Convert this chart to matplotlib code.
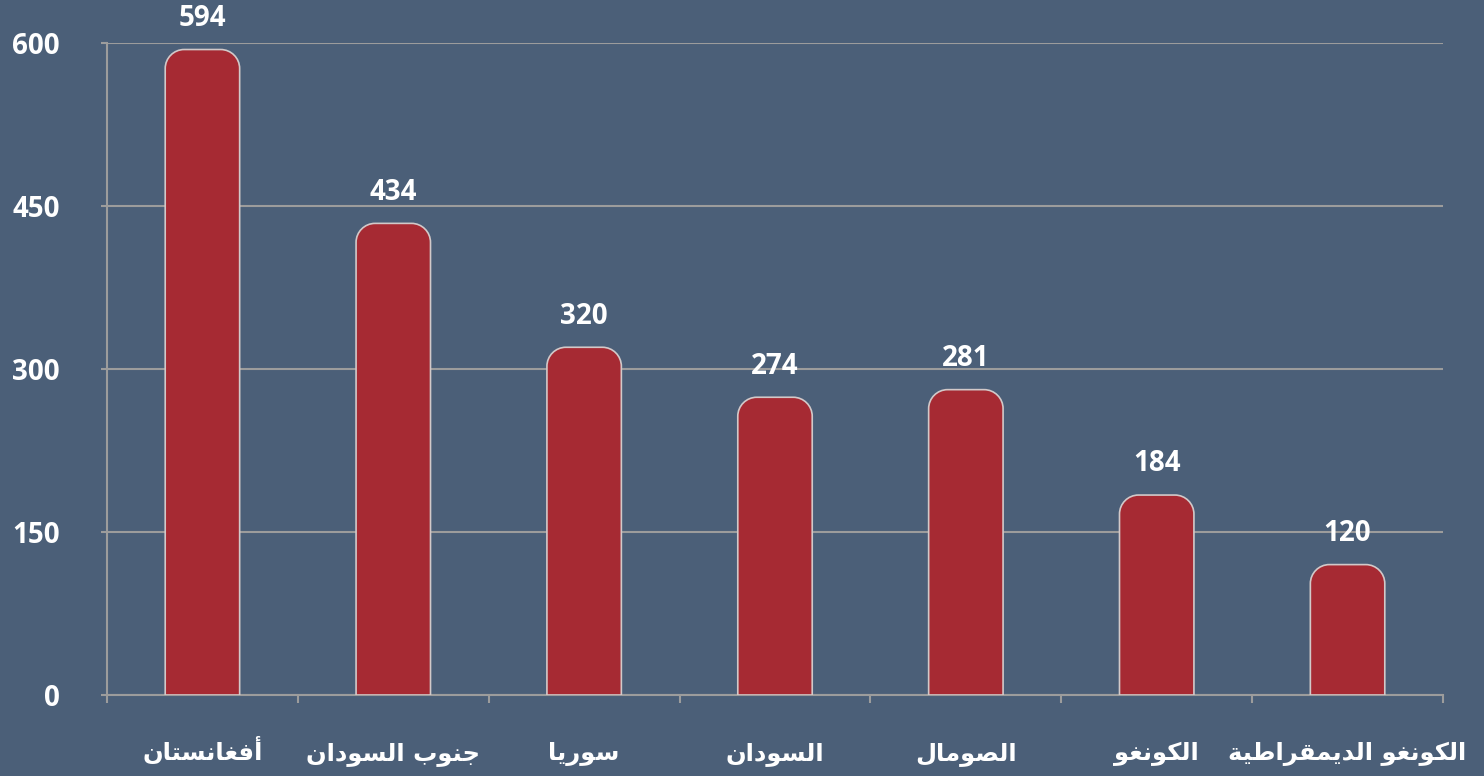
import numpy as np
import matplotlib
matplotlib.use('Agg')
import matplotlib.pyplot as plt
from matplotlib.path import Path
from matplotlib.patches import PathPatch
from matplotlib.ticker import FixedLocator

# data
countries = ['أفغانستان', 'جنوب السودان', 'سوريا', 'السودان', 'الصومال',
             'الكونغو', 'الكونغو الديمقراطية']
values = [594, 434, 320, 274, 281, 184, 120]
yticks = [0, 150, 300, 450, 600]

BG = '#4b5f78'
BAR = '#a62a33'
EDGE = '#d2c9c9'
GRID = '#9c9c9c'

# minimal arabic shaping (iso, final, initial, medial)
FORMS = {
    'ا': (0xFE8D, 0xFE8E, None, None),
    'أ': (0xFE83, 0xFE84, None, None),
    'ب': (0xFE8F, 0xFE90, 0xFE91, 0xFE92),
    'ة': (0xFE93, 0xFE94, None, None),
    'ت': (0xFE95, 0xFE96, 0xFE97, 0xFE98),
    'ج': (0xFE9D, 0xFE9E, 0xFE9F, 0xFEA0),
    'د': (0xFEA9, 0xFEAA, None, None),
    'ر': (0xFEAD, 0xFEAE, None, None),
    'س': (0xFEB1, 0xFEB2, 0xFEB3, 0xFEB4),
    'ص': (0xFEB9, 0xFEBA, 0xFEBB, 0xFEBC),
    'ط': (0xFEC1, 0xFEC2, 0xFEC3, 0xFEC4),
    'غ': (0xFECD, 0xFECE, 0xFECF, 0xFED0),
    'ف': (0xFED1, 0xFED2, 0xFED3, 0xFED4),
    'ق': (0xFED5, 0xFED6, 0xFED7, 0xFED8),
    'ك': (0xFED9, 0xFEDA, 0xFEDB, 0xFEDC),
    'ل': (0xFEDD, 0xFEDE, 0xFEDF, 0xFEE0),
    'م': (0xFEE1, 0xFEE2, 0xFEE3, 0xFEE4),
    'ن': (0xFEE5, 0xFEE6, 0xFEE7, 0xFEE8),
    'و': (0xFEED, 0xFEEE, None, None),
    'ي': (0xFEF1, 0xFEF2, 0xFEF3, 0xFEF4),
}


def shape(text):
    out = []
    for i, ch in enumerate(text):
        if ch not in FORMS:
            out.append(ch)
            continue
        prev = text[i-1] if i > 0 else ''
        nxt = text[i+1] if i + 1 < len(text) else ''
        iso, fin, ini, med = FORMS[ch]
        jp = prev in FORMS and FORMS[prev][2] is not None
        jn = nxt in FORMS and ini is not None
        if jp and jn:
            c = med
        elif jp:
            c = fin
        elif jn:
            c = ini
        else:
            c = iso
        out.append(chr(c))
    return ''.join(out)[::-1]


fig = plt.figure(figsize=(14.84, 7.76), dpi=100, facecolor=BG)
ax = fig.add_axes([107/1484, 1-695/776, 1336/1484, 652/776])
ax.set_facecolor(BG)

x = np.arange(len(countries))
bars = ax.bar(x, values, width=0.39, color=BAR, zorder=3)
ax.set_xlim(-0.5, len(countries) - 0.5)
ax.set_ylim(0, 600)

# rounded tops
p = ax.transData.transform([(0, 0), (1, 1)])
px_x, px_y = p[1] - p[0]
rx, ry = 19 / px_x, 19 / px_y
k = 0.5523
for b in bars:
    x0, w, h = b.get_x(), b.get_width(), b.get_height()
    verts = [(x0, 0), (x0, h - ry),
             (x0, h - ry + k*ry), (x0 + rx - k*rx, h), (x0 + rx, h),
             (x0 + w - rx, h),
             (x0 + w - rx + k*rx, h), (x0 + w, h - ry + k*ry), (x0 + w, h - ry),
             (x0 + w, 0), (x0, 0)]
    codes = [Path.MOVETO, Path.LINETO,
             Path.CURVE4, Path.CURVE4, Path.CURVE4,
             Path.LINETO,
             Path.CURVE4, Path.CURVE4, Path.CURVE4,
             Path.LINETO, Path.CLOSEPOLY]
    ax.add_patch(PathPatch(Path(verts, codes), facecolor=BAR, edgecolor=EDGE,
                           linewidth=1.2, zorder=3))
    b.set_visible(False)
    ax.annotate(str(int(h)), (x0 + w/2, h), xytext=(0, 12),
                textcoords='offset points', ha='center', va='bottom',
                color='white', fontsize=20, fontfamily='Open Sans',
                fontweight='bold')

for s in ['top', 'right']:
    ax.spines[s].set_visible(False)
for s in ['left', 'bottom']:
    ax.spines[s].set_color(GRID)
    ax.spines[s].set_linewidth(1.5)

ax.set_yticks(yticks)
ax.set_yticklabels([str(v) for v in yticks], color='white', fontsize=20,
                   fontfamily='Open Sans', fontweight='bold')
ax.tick_params(axis='y', length=4, width=1.5, color=GRID, pad=30)
ax.yaxis.grid(True, color=GRID, linewidth=1.5, zorder=1)

ax.set_xticks(x)
ax.set_xticklabels([shape(c) for c in countries], color='white', fontsize=17.5,
                   fontfamily='DejaVu Sans', fontweight='bold', va='baseline')
ax.tick_params(axis='x', which='major', length=0, pad=47)
ax.xaxis.set_minor_locator(FixedLocator(np.arange(-0.5, len(countries), 1)))
ax.tick_params(axis='x', which='minor', length=6, width=1.5, color=GRID)

fig.savefig('out.png', dpi=100, facecolor=BG)
